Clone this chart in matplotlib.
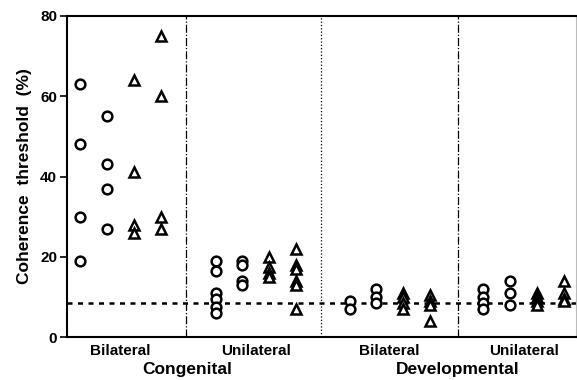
import matplotlib
matplotlib.use("Agg")
from matplotlib import pyplot as plt
from matplotlib import transforms

plt.rcParams['font.family'] = ['Liberation Sans', 'DejaVu Sans']

# data: coherence threshold (%) per subject column
groups = ['Bilateral', 'Unilateral', 'Bilateral', 'Unilateral']
types = ['Congenital', 'Developmental']

# each group: two circle columns then two triangle columns
cong_bi = [[63, 48, 30, 19], [55, 43, 37, 27], [64, 41, 28, 26], [75, 60, 30, 27]]
cong_uni = [[19, 16.5, 11, 9.5, 7.5, 6], [19, 18, 14, 13],
            [20, 17.5, 16, 15], [22, 18, 17, 14, 13, 7]]
dev_bi = [[9, 7], [12, 10, 8.5], [11, 10, 8.5, 7], [10.5, 9, 8, 4]]
dev_uni = [[12, 10, 8.5, 7], [14, 11, 8], [11, 10, 9, 8], [14, 11, 9.5, 9]]
normal_level = 8.5

all_groups = [cong_bi, cong_uni, dev_bi, dev_uni]
group_starts = [0.5, 5.55, 10.55, 15.55]
dividers = [4.45, 9.5, 14.6]
divider_styles = ['-.', ':', '-.']

fig = plt.figure(figsize=(5.77, 3.8), dpi=100)
ax = fig.add_axes([0.116, 0.113, 0.882, 0.845])

for g, cols in enumerate(all_groups):
    for c, vals in enumerate(cols):
        x = [group_starts[g] + c] * len(vals)
        m = 'o' if c < 2 else '^'
        ax.plot(x, vals, linestyle='none', marker=m, markersize=7 if m == 'o' else 7.5,
                markerfacecolor='white', markeredgecolor='black', markeredgewidth=1.8,
                zorder=3)

ax.axhline(normal_level, color='black', linestyle=(0, (2, 2.2)), linewidth=1.8, zorder=2)
for d, ls in zip(dividers, divider_styles):
    ax.axvline(d, color='black', linestyle=ls, linewidth=0.9)

ax.set_xlim(0, 19)
ax.set_ylim(0, 80)
ax.set_yticks([0, 20, 40, 60, 80])
ax.set_xticks([])
ax.tick_params(axis='y', direction='out', length=5, width=1.2, labelsize=11, pad=2)
for lab in ax.get_yticklabels():
    lab.set_fontweight('bold')
ax.set_ylabel('Coherence  threshold  (%)', fontsize=12.5, fontweight='bold', labelpad=6)

for s in ['left', 'bottom', 'top']:
    ax.spines[s].set_linewidth(1.5)
ax.spines['right'].set_color('#bbbbbb')
ax.spines['right'].set_linewidth(0.8)

trans = transforms.blended_transform_factory(ax.transData, ax.transAxes)
for g, name in enumerate(groups):
    ax.text(group_starts[g] + 1.5, -0.022, name, transform=trans, ha='center', va='top',
            fontsize=11, fontweight='bold')
ax.text(4.5, -0.078, types[0], transform=trans, ha='center', va='top',
        fontsize=12.5, fontweight='bold')
ax.text(14.6, -0.078, types[1], transform=trans, ha='center', va='top',
        fontsize=12.5, fontweight='bold')

fig.savefig('out.png', dpi=100)
